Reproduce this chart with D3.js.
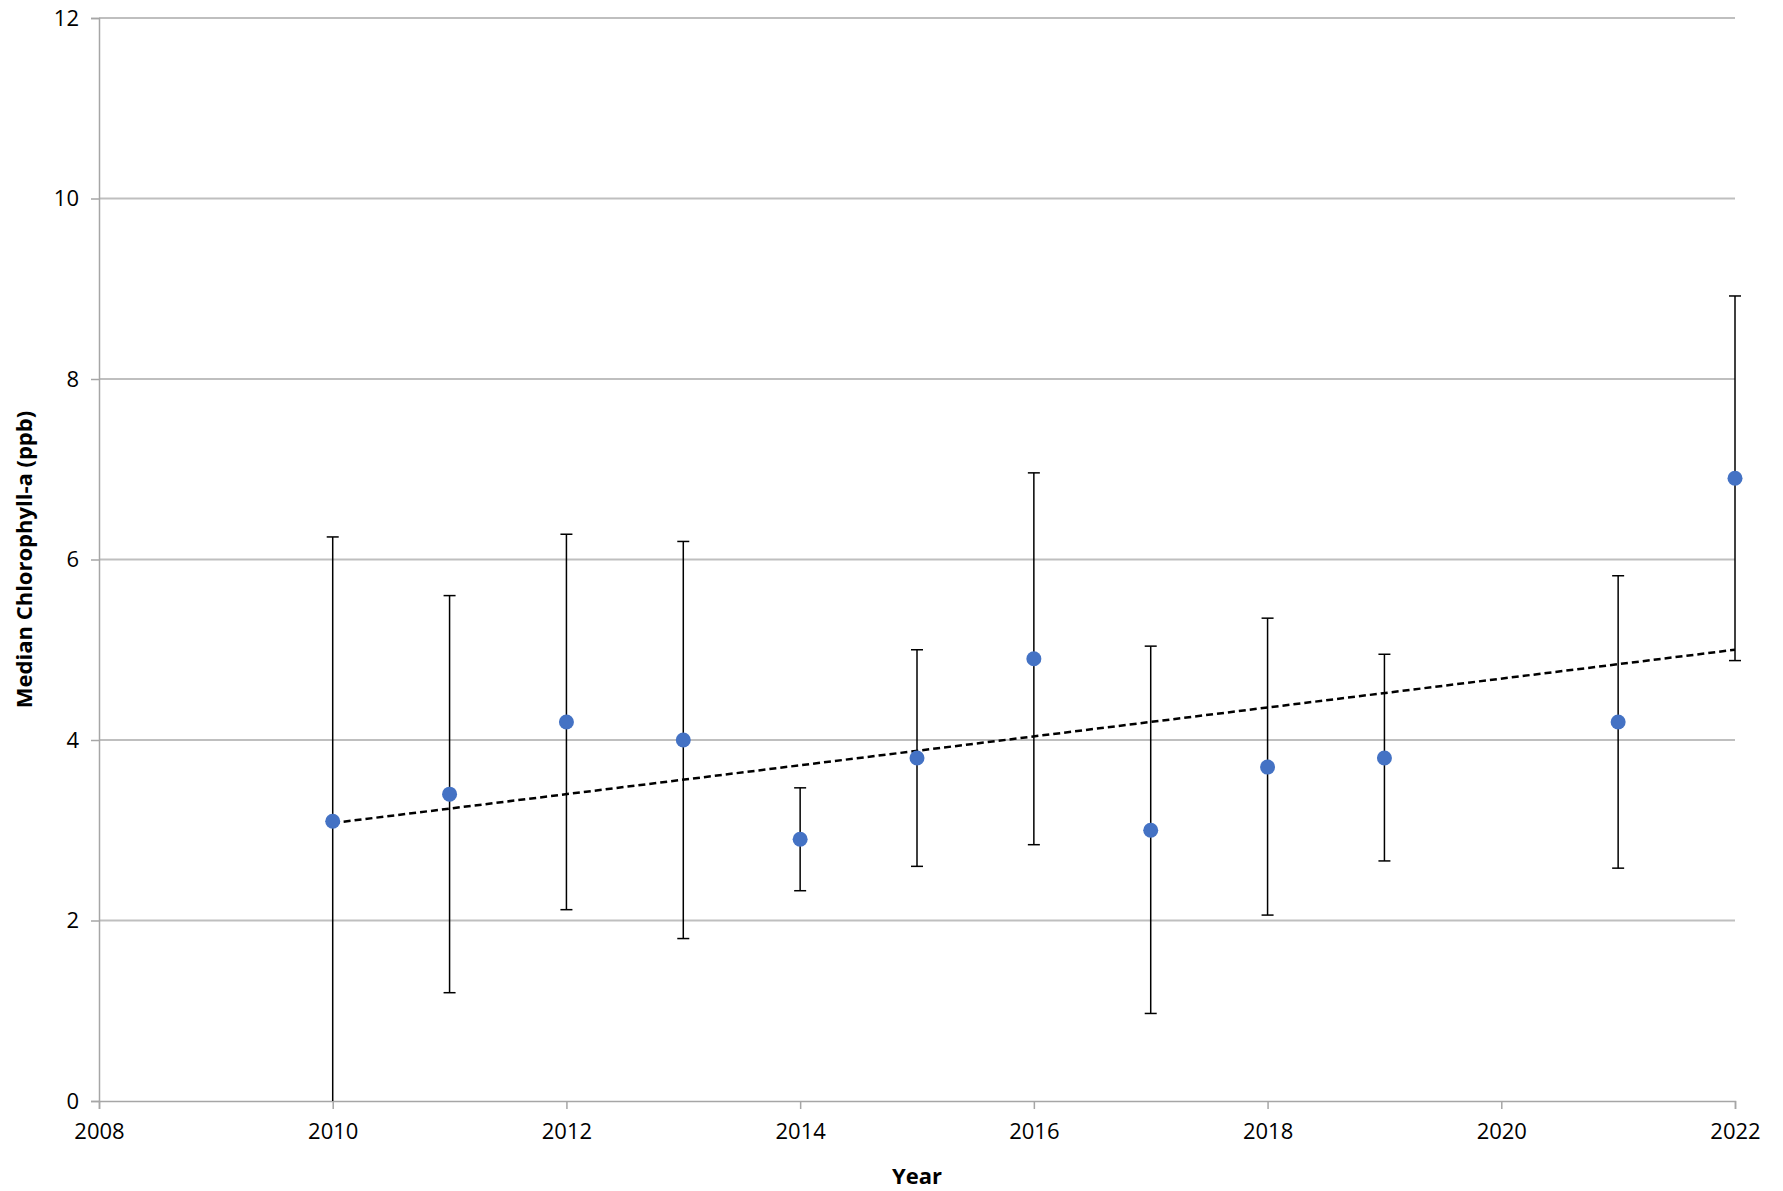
<!DOCTYPE html>
<html><head><meta charset="utf-8">
<script src="https://cdn.jsdelivr.net/npm/d3@7"></script>
<style>body{margin:0;background:#fff}text{font-family:"Open Sans","Liberation Sans",sans-serif}</style>
</head><body><svg id="c" width="1783" height="1191"></svg>
<script>
const years=[2010,2011,2012,2013,2014,2015,2016,2017,2018,2019,2021,2022];
const medians=[3.1,3.4,4.2,4.0,2.9,3.8,4.9,3.0,3.7,3.8,4.2,6.9];
const lows=[0,1.2,2.12,1.8,2.33,2.6,2.84,0.97,2.06,2.66,2.58,4.88];
const highs=[6.25,5.6,6.28,6.2,3.47,5.0,6.96,5.04,5.35,4.95,5.82,8.92];
const trendX=[2010,2022];
const trendY=[3.08,5.0];
const xTicks=[2008,2010,2012,2014,2016,2018,2020,2022];
const yTicks=[0,2,4,6,8,10,12];
const L=99,R=1735,T=18,B=1101;
const svg=d3.select("#c");
const x=d3.scaleLinear().domain([2008,2022]).range([L,R]);
const y=d3.scaleLinear().domain([0,12]).range([B,T]);
svg.append("g").selectAll("line").data(yTicks.filter(d=>d>0)).join("line")
 .attr("x1",L).attr("x2",R).attr("y1",y).attr("y2",y).attr("stroke","#bfbfbf").attr("stroke-width",2);
const ya=svg.append("g").attr("transform",`translate(${L},0)`).call(d3.axisLeft(y).tickValues(yTicks).tickSize(8).tickPadding(12));
const xa=svg.append("g").attr("transform",`translate(0,${B})`).call(d3.axisBottom(x).tickValues(xTicks).tickFormat(d3.format("d")).tickSize(8).tickPadding(14));
[ya,xa].forEach(a=>{a.selectAll("path,line").attr("stroke","#a6a6a6").attr("stroke-width",1.5);a.selectAll("text").attr("font-size",22).attr("fill","#000");});
const data=years.map((d,i)=>({x:d,m:medians[i],lo:lows[i],hi:highs[i]}));
const eb=svg.append("g").attr("stroke","#000").attr("stroke-width",1.5);
eb.selectAll(".v").data(data).join("line").attr("x1",d=>x(d.x)).attr("x2",d=>x(d.x)).attr("y1",d=>y(d.lo)).attr("y2",d=>y(d.hi));
eb.selectAll(".t").data(data).join("line").attr("x1",d=>x(d.x)-6).attr("x2",d=>x(d.x)+6).attr("y1",d=>y(d.hi)).attr("y2",d=>y(d.hi));
eb.selectAll(".b").data(data.filter(d=>d.lo>0)).join("line").attr("x1",d=>x(d.x)-6).attr("x2",d=>x(d.x)+6).attr("y1",d=>y(d.lo)).attr("y2",d=>y(d.lo));
svg.append("line").attr("x1",x(trendX[0])).attr("x2",x(trendX[1])).attr("y1",y(trendY[0])).attr("y2",y(trendY[1]))
 .attr("stroke","#000").attr("stroke-width",2.5).attr("stroke-dasharray","7,4");
svg.append("g").selectAll("circle").data(data).join("circle").attr("cx",d=>x(d.x)).attr("cy",d=>y(d.m)).attr("r",7.5).attr("fill","#4472c4");
svg.append("text").attr("x",(L+R)/2).attr("y",1190-6).attr("text-anchor","middle").attr("font-size",22).attr("font-weight","bold").text("Year");
svg.append("text").attr("transform",`translate(32,${(T+B)/2}) rotate(-90)`).attr("text-anchor","middle").attr("font-size",22).attr("font-weight","bold").text("Median Chlorophyll-a (ppb)");
</script></body></html>
